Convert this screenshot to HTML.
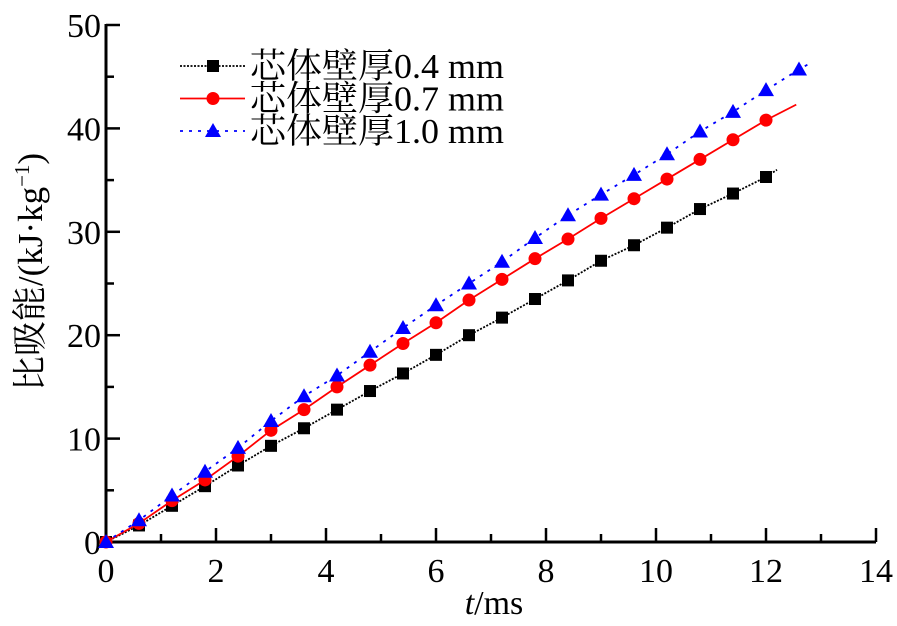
<!DOCTYPE html>
<html><head><meta charset="utf-8"><style>
body{margin:0;background:#fff}
svg{display:block;font-family:"Liberation Serif","Noto Serif CJK SC",serif}
</style></head><body>
<svg id="chart" width="897" height="626" viewBox="0 0 897 626"></svg>
<script>
const xTicks=[0,2,4,6,8,10,12,14];
const yTicks=[0,10,20,30,40,50];
const times=[0,0.6,1.2,1.8,2.4,3.0,3.6,4.2,4.8,5.4,6.0,6.6,7.2,7.8,8.4,9.0,9.6,10.2,10.8,11.4,12.0,12.6];
const s04=[0,1.6,3.5,5.4,7.4,9.3,11,12.8,14.6,16.3,18.1,20,21.7,23.5,25.3,27.2,28.7,30.4,32.2,33.7,35.3];
const s07=[0,1.8,4,6,8.3,10.8,12.8,15,17.1,19.2,21.2,23.4,25.4,27.4,29.3,31.3,33.2,35.1,37,38.9,40.8];
const s10=[0,2.1,4.5,6.8,9.1,11.7,14.1,16.1,18.4,20.7,22.9,25,27.1,29.4,31.6,33.6,35.5,37.5,39.7,41.6,43.7,45.7];
const ends=[[12.2,36],[12.55,42.3],[12.8,46.3]];
const names=["芯体壁厚0.4 mm","芯体壁厚0.7 mm","芯体壁厚1.0 mm"];
const NS="http://www.w3.org/2000/svg";
const svg=document.getElementById('chart');
const X=v=>106+v*55;
const Y=v=>542-v*10.34;
function el(t,a,p){const e=document.createElementNS(NS,t);for(const k in a)e.setAttribute(k,a[k]);(p||svg).appendChild(e);return e;}
let ax=el('line',{x1:106,y1:542,x2:876,y2:542,stroke:'#000','stroke-width':3});


let ay=el('line',{x1:106,y1:542,x2:106,y2:Y(50)-1,stroke:'#000','stroke-width':3});


for(let v=0;v<=14;v++){const L=v%2?8:14;el('line',{x1:X(v),y1:542,x2:X(v),y2:542-L,stroke:'#000','stroke-width':2.5});}
for(let v=0;v<=50;v+=5){const L=v%10?8:14;el('line',{x1:106,y1:Y(v),x2:106+L,y2:Y(v),stroke:'#000','stroke-width':2.5});}
xTicks.forEach(v=>{const t=el('text',{x:X(v),y:582,'font-size':34,'text-anchor':'middle'});t.textContent=v;

});
yTicks.forEach(v=>{const t=el('text',{x:101,y:Y(v)+12,'font-size':34,'text-anchor':'end'});t.textContent=v;

});
const xt=el('text',{x:494,y:614,'font-size':34,'text-anchor':'middle'});
xt.innerHTML='<tspan font-style="italic">t</tspan>/ms';


const yt=el('text',{x:0,y:0,'font-size':35,'text-anchor':'middle',transform:'translate(42,272) rotate(-90)'});
yt.innerHTML='比吸能/(kJ·kg<tspan font-size="21" dy="-13">−1</tspan><tspan dy="13">)</tspan>';


const series=[s04,s07,s10];
const cols=['#000','#f00','#00f'];
const dash=['2,1.5','none','3,6'];
function marker(k,cx,cy,g){
 if(k==0)return el('rect',{x:cx-6,y:cy-6,width:12,height:12,fill:'#000'},g);
 if(k==1)return el('circle',{cx:cx,cy:cy,r:6.5,fill:'#f00'},g);
 return el('polygon',{points:`${cx},${cy-8} ${cx-8},${cy+6} ${cx+8},${cy+6}`,fill:'#00f'},g);
}
series.forEach((s,k)=>{
 const g=el('g',{});
 
 
 let pts=s.map((v,i)=>X(times[i])+','+Y(v));pts.push(X(ends[k][0])+','+Y(ends[k][1]));
 el('polyline',{points:pts.join(' '),fill:'none',stroke:cols[k],'stroke-width':1.8,'stroke-dasharray':dash[k]},g);
 s.forEach((v,i)=>{const m=marker(k,X(times[i]),Y(v),g);
 
 });
 const ly=66+k*32.5;
 const lg=el('g',{});
 
 
 el('line',{x1:180,y1:ly,x2:245,y2:ly,stroke:cols[k],'stroke-width':1.8,'stroke-dasharray':dash[k]},lg);
 marker(k,213,ly,lg);
 const t=el('text',{x:250,y:ly+12,'font-size':35,textLength:254,lengthAdjust:'spacingAndGlyphs'},lg);t.textContent=names[k];
});
</script>
</body></html>
